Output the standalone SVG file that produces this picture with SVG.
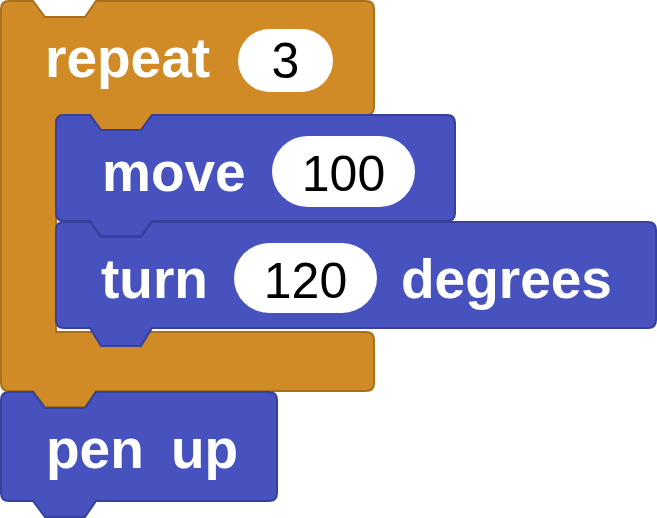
<svg xmlns="http://www.w3.org/2000/svg" width="657" height="518" viewBox="0 0 657 518">
<style>
.ctl{fill:#d08a26;stroke:#a8701c;stroke-width:2}
.pen{fill:#4752bf;stroke:#37409a;stroke-width:2}
.lbl{font-family:"Liberation Sans",Arial,sans-serif;font-weight:bold;font-size:55px;fill:#fff}
.num{font-family:"Liberation Sans",Arial,sans-serif;font-size:50px;fill:#000;text-anchor:middle}
.inp{fill:#fff}
</style>
<rect width="657" height="518" fill="#fff"/>
<g id="repeat">
<path class="ctl" d="M9,1 H33 L45,17 H85 L96,1 H366 Q374,1 374,9 V107 Q374,115 366,115 H152 L141,130 H101 L90,115 H64 Q56,115 56,123 V332 H366 Q374,332 374,340 V383 Q374,391 366,391 H96 L85,407 H45 L33,391 H9 Q1,391 1,383 V9 Q1,1 9,1 Z"/>
<text class="lbl" x="45" y="77">repeat</text>
<rect class="inp" x="238" y="29" width="95" height="63" rx="31.5"/>
<text class="num" x="285.5" y="78">3</text>
</g>
<g id="move">
<path class="pen" d="M64,115 H90 L101,130 H141 L152,115 H447 Q455,115 455,123 V213 Q455,221 447,221 H152 L141,236 H101 L90,221 H64 Q56,221 56,213 V123 Q56,115 64,115 Z"/>
<text class="lbl" x="102" y="191">move</text>
<rect class="inp" x="272" y="136" width="143" height="71" rx="35.5"/>
<text class="num" x="343.5" y="191">100</text>
</g>
<g id="turn">
<path class="pen" d="M64,222 H90 L101,237 H141 L152,222 H648 Q656,222 656,230 V320 Q656,328 648,328 H152 L141,346 H101 L90,328 H64 Q56,328 56,320 V230 Q56,222 64,222 Z"/>
<text class="lbl" x="101" y="298">turn</text>
<rect class="inp" x="234" y="243" width="143" height="70" rx="35"/>
<text class="num" x="305.5" y="298">120</text>
<text class="lbl" x="401" y="298">degrees</text>
</g>
<g id="penup">
<path class="pen" d="M9,392 H33 L45,408 H85 L96,392 H269 Q277,392 277,400 V493 Q277,501 269,501 H96 L85,517 H45 L33,501 H9 Q1,501 1,493 V400 Q1,392 9,392 Z"/>
<text class="lbl" x="46" y="468">pen</text>
<text class="lbl" x="171" y="468">up</text>
</g>
<g id="connectors"/>
</svg>
